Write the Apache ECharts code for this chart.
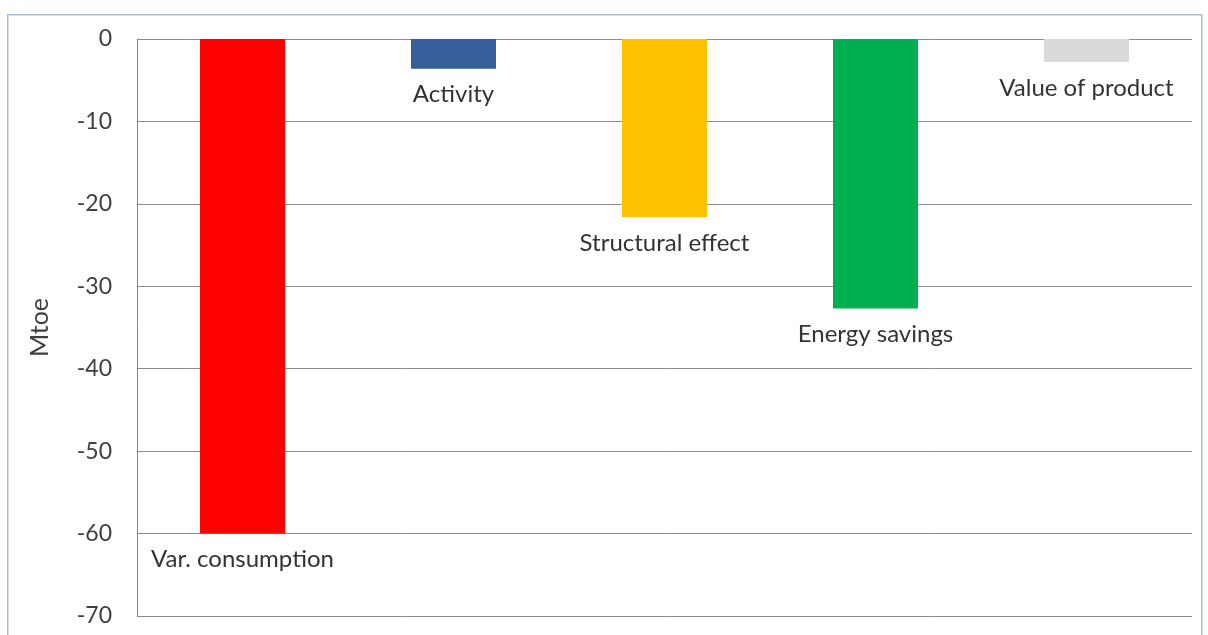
<!DOCTYPE html>
<html>
<head>
<meta charset="utf-8">
<script src="https://cdn.jsdelivr.net/npm/echarts@6/dist/echarts.min.js"></script>
<style>
html,body{margin:0;padding:0;background:#fff;}
#chart{width:1208px;height:635px;}
</style>
</head>
<body>
<div id="chart"></div>
<script>
const categories = ["Var. consumption", "Activity", "Structural effect", "Energy savings", "Value of product"];
const values = [-60, -3.6, -21.6, -32.7, -2.8];
const barColors = ["#ff0000", "#355e9a", "#ffc000", "#00b050", "#d9d9d9"];
const yTicks = { min: -70, max: 0, interval: 10 };
const yAxisName = "Mtoe";

const chart = echarts.init(document.getElementById('chart'));
const FONT = 'Lato';
chart.setOption({
  animation: false,
  backgroundColor: '#ffffff',
  graphic: [{
    type: 'rect', left: 7, top: 14, z: -1, silent: true,
    shape: { width: 1194, height: 640 },
    style: { fill: '#ffffff', stroke: '#a7bfcf', lineWidth: 1.5 }
  }],
  grid: { left: 137, right: 16, top: 39, bottom: 19 },
  xAxis: {
    type: 'category',
    data: categories,
    position: 'top',
    axisLine: { show: false },
    axisTick: { show: false },
    axisLabel: { show: false },
    splitLine: { show: false }
  },
  yAxis: {
    type: 'value',
    min: yTicks.min, max: yTicks.max, interval: yTicks.interval,
    name: yAxisName,
    nameLocation: 'middle',
    nameGap: 85,
    nameRotate: 90,
    nameTextStyle: { fontFamily: FONT, fontSize: 25, color: '#404040' },
    axisLine: { show: true, lineStyle: { color: '#888888', width: 1 } },
    axisTick: { show: false },
    axisLabel: { fontFamily: FONT, fontSize: 23, color: '#404040', margin: 25 },
    splitLine: { show: true, lineStyle: { color: '#8c8c8c', width: 1 } }
  },
  series: [{
    type: 'bar',
    barWidth: 85,
    data: values.map((v, i) => ({ value: v, itemStyle: { color: barColors[i] } })),
    label: {
      show: true,
      position: 'bottom',
      distance: 14,
      formatter: p => categories[p.dataIndex],
      fontFamily: FONT,
      fontSize: 24,
      color: '#333333'
    }
  }]
});
</script>
</body>
</html>
